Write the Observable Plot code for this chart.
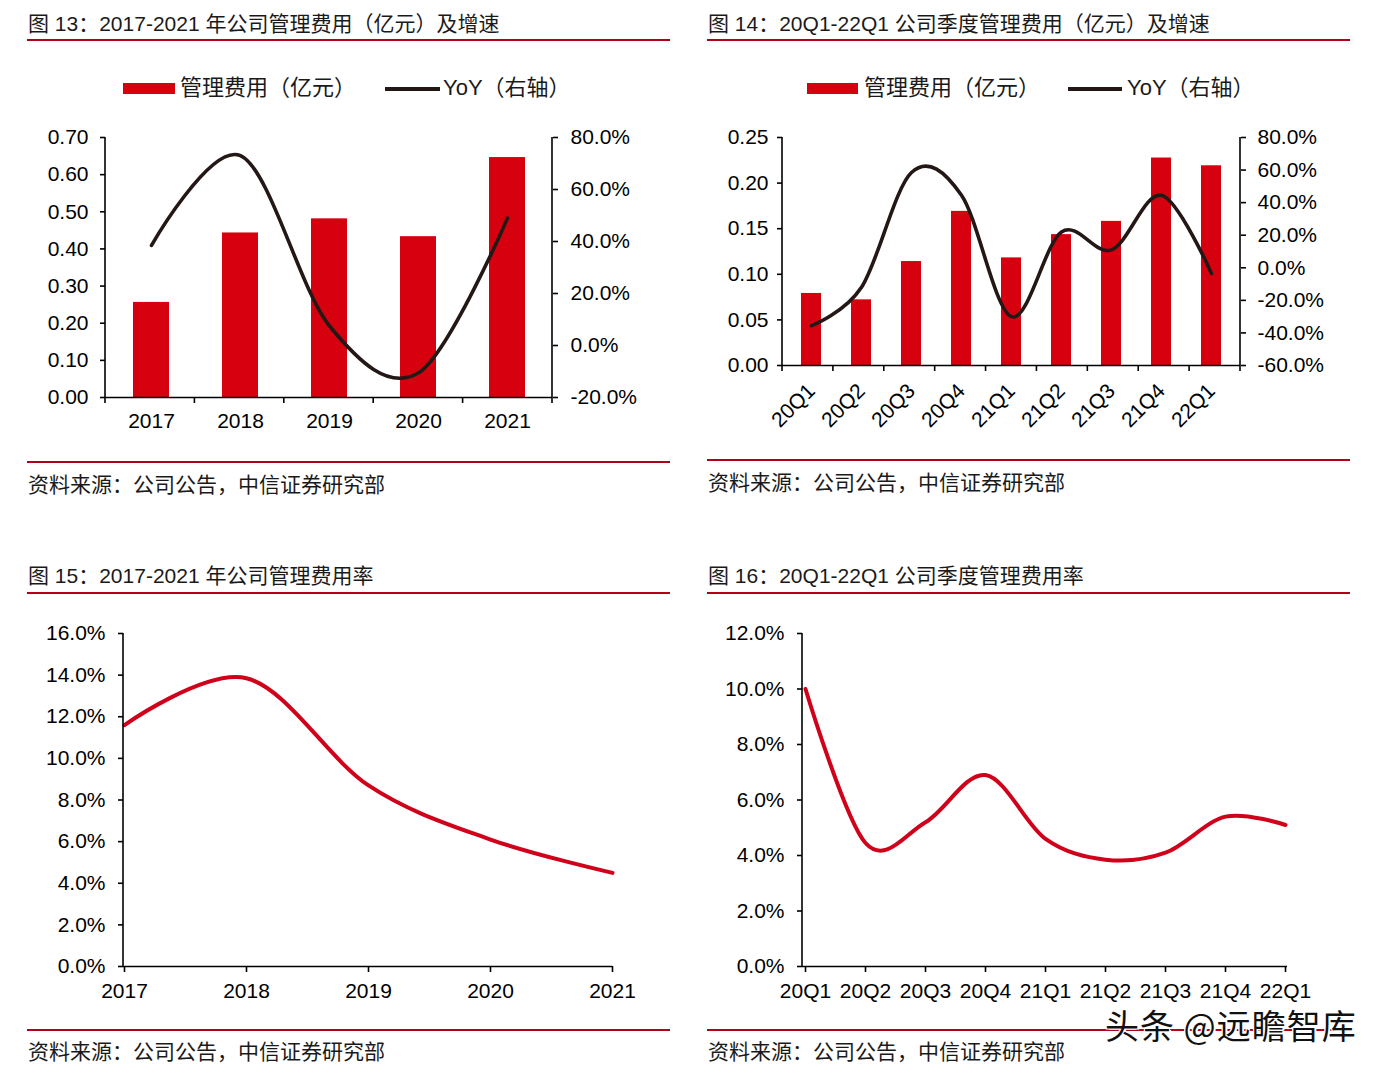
<!DOCTYPE html>
<html><head><meta charset="utf-8">
<script src="https://cdn.jsdelivr.net/npm/d3@7"></script>
<script src="https://cdn.jsdelivr.net/npm/@observablehq/plot@0.6"></script>
<style>
body{margin:0;width:1391px;height:1073px;background:#fff;position:relative;overflow:hidden;font-family:"Liberation Sans",Arial,"Noto Sans CJK SC",sans-serif;color:#1a1a1a}
.t{position:absolute;font-size:21px;line-height:24px;white-space:nowrap}
.lg{position:absolute;font-size:22px;line-height:24px;white-space:nowrap}
.rule{position:absolute;height:2px;background:#b0001a}
.abs{position:absolute}
.wm{position:absolute;font-family:"Noto Sans CJK SC",sans-serif;font-size:34px;letter-spacing:1px;line-height:28px;color:#111;white-space:nowrap;text-shadow:2px 1px 0 #fff,-1px -1px 0 #fff,1px -1px 0 #fff,-1px 1px 0 #fff}
</style></head><body>
<script>
// ---------- data ----------
const years = ["2017", "2018", "2019", "2020", "2021"];
const annualExpense = [0.256, 0.443, 0.481, 0.433, 0.646];   // 亿元
const annualYoY = [38.5, 73.0, 7.5, -10.5, 49.0];             // %
const annualRate = [11.6, 13.85, 8.7, 6.1, 4.5];              // %

const quarters = ["20Q1", "20Q2", "20Q3", "20Q4", "21Q1", "21Q2", "21Q3", "21Q4", "22Q1"];
const quarterExpense = [0.079, 0.072, 0.114, 0.169, 0.118, 0.1435, 0.158, 0.2275, 0.219];
const quarterYoY = [-35.5, -12.0, 58.5, 44.5, -30.0, 22.0, 11.0, 44.5, -3.5];
const quarterRate = [10.0, 4.45, 5.2, 6.9, 4.6, 3.85, 4.1, 5.4, 5.1];

const leftTicks1 = [0, 0.1, 0.2, 0.3, 0.4, 0.5, 0.6, 0.7];
const rightTicks1 = [-20, 0, 20, 40, 60, 80];
const leftTicks2 = [0, 0.05, 0.1, 0.15, 0.2, 0.25];
const rightTicks2 = [-60, -40, -20, 0, 20, 40, 60, 80];
const rateTicks3 = [0, 2, 4, 6, 8, 10, 12, 14, 16];
const rateTicks4 = [0, 2, 4, 6, 8, 10, 12];

const titles = [
  "图 13：2017-2021 年公司管理费用（亿元）及增速",
  "图 14：20Q1-22Q1 公司季度管理费用（亿元）及增速",
  "图 15：2017-2021 年公司管理费用率",
  "图 16：20Q1-22Q1 公司季度管理费用率"
];
const sourceText = "资料来源：公司公告，中信证券研究部";
const legendBar = "管理费用（亿元）";
const legendLine = "YoY（右轴）";
const watermark = "头条 @远瞻智库";

// ---------- helpers ----------
const RED = "#d7000f";
const LINE_RED = "#d0021b";
const DARK = "#231815";
const pct = v => v.toFixed(1) + "%";
const baseStyle = {fontFamily: '"Liberation Sans", Arial, sans-serif', fontSize: "21px", color: "#000", background: "transparent", overflow: "visible"};

function place(el, left, top) {
  el.style.position = "absolute";
  el.style.left = left + "px";
  el.style.top = top + "px";
  document.body.appendChild(el);
  return el;
}
function text(str, left, top, cls = "t") {
  const d = document.createElement("div");
  d.className = cls;
  d.textContent = str;
  return place(d, left, top);
}
function rule(left, top, width) {
  const d = document.createElement("div");
  d.className = "rule";
  d.style.width = width + "px";
  return place(d, left, top);
}
function box(left, top, w, h, color) {
  const d = document.createElement("div");
  d.className = "abs";
  d.style.width = w + "px"; d.style.height = h + "px"; d.style.background = color;
  return place(d, left, top);
}
// axis lines + category-boundary ticks (derived from the plot's own scales)
function axisFrame(svg, {right = false, boundaries = false}) {
  const x = svg.scale("x"), y = svg.scale("y");
  const x0 = Math.min(...x.range), x1 = Math.max(...x.range);
  const yt = Math.min(...y.range), yb = Math.max(...y.range);
  const g = d3.select(svg).append("g").attr("stroke", "#000").attr("stroke-width", 1.6).attr("fill", "none");
  g.append("line").attr("x1", x0).attr("x2", x0).attr("y1", yt).attr("y2", yb);
  if (right) g.append("line").attr("x1", x1).attr("x2", x1).attr("y1", yt).attr("y2", yb);
  if (boundaries) {
    const n = x.domain.length, step = (x1 - x0) / n;
    for (let i = 0; i <= n; i++) {
      const xx = x0 + i * step;
      g.append("line").attr("x1", xx).attr("x2", xx).attr("y1", yb).attr("y2", yb + 6);
    }
  }
}

// ---------- chart 1 ----------
const annual = years.map((year, i) => ({year, expense: annualExpense[i], yoy: annualYoY[i], rate: annualRate[i]}));
const Y1 = 0.7, R1 = [-20, 80];
const toLeft1 = v => (v - R1[0]) / (R1[1] - R1[0]) * Y1;
const fromLeft1 = d => Math.round(d / Y1 * (R1[1] - R1[0]) + R1[0]);

const c1 = Plot.plot({
  width: 640, height: 330, marginLeft: 85, marginRight: 108, marginTop: 22, marginBottom: 48,
  style: baseStyle,
  x: {domain: years, paddingInner: 0.6, paddingOuter: 0.3, label: null},
  y: {domain: [0, Y1], label: null},
  marks: [
    Plot.barY(annual, {x: "year", y: "expense", fill: RED}),
    Plot.line(annual, {x: "year", y: d => toLeft1(d.yoy), curve: "cardinal", stroke: DARK, strokeWidth: 3.6}),
    Plot.ruleY([0], {strokeWidth: 1.6}),
    Plot.axisY({ticks: leftTicks1, tickFormat: d => d.toFixed(2), tickSize: 5, tickPadding: 12, strokeWidth: 1.6, label: null}),
    Plot.axisY({anchor: "right", ticks: rightTicks1.map(toLeft1), tickFormat: d => pct(fromLeft1(d)), tickSize: 5, tickPadding: 13, strokeWidth: 1.6, label: null}),
    Plot.axisX({tickSize: 0, tickPadding: 16, label: null})
  ]
});
axisFrame(c1, {right: true, boundaries: true});
place(c1, 20, 115);

// ---------- chart 2 ----------
const quarterly = quarters.map((q, i) => ({q, expense: quarterExpense[i], yoy: quarterYoY[i], rate: quarterRate[i]}));
const Y2 = 0.25, R2 = [-60, 80];
const toLeft2 = v => (v - R2[0]) / (R2[1] - R2[0]) * Y2;
const fromLeft2 = d => Math.round(d / Y2 * (R2[1] - R2[0]) + R2[0]);

const c2 = Plot.plot({
  width: 680, height: 330, marginLeft: 82, marginRight: 140, marginTop: 22, marginBottom: 80,
  style: baseStyle,
  x: {domain: quarters, paddingInner: 0.6, paddingOuter: 0.3, label: null},
  y: {domain: [0, Y2], label: null},
  marks: [
    Plot.barY(quarterly, {x: "q", y: "expense", fill: RED}),
    Plot.line(quarterly, {x: "q", y: d => toLeft2(d.yoy), curve: "cardinal", stroke: DARK, strokeWidth: 3.6}),
    Plot.ruleY([0], {strokeWidth: 1.6}),
    Plot.axisY({ticks: leftTicks2, tickFormat: d => d.toFixed(2), tickSize: 5, tickPadding: 9, strokeWidth: 1.6, label: null}),
    Plot.axisY({anchor: "right", ticks: rightTicks2.map(toLeft2), tickFormat: d => pct(fromLeft2(d)), tickSize: 5, tickPadding: 12, strokeWidth: 1.6, label: null}),
    Plot.axisX({tickSize: 0, tickPadding: 22, tickRotate: -45, label: null})
  ]
});
axisFrame(c2, {right: true, boundaries: true});
place(c2, 700, 115);

// ---------- chart 3 ----------
const c3 = Plot.plot({
  width: 640, height: 400, marginLeft: 103, marginRight: 48, marginTop: 23, marginBottom: 44,
  style: baseStyle,
  x: {type: "point", domain: years, padding: 0, label: null},
  y: {domain: [0, 16], label: null},
  marks: [
    Plot.line(annual, {x: "year", y: "rate", curve: "cardinal", stroke: LINE_RED, strokeWidth: 4}),
    Plot.ruleY([0], {strokeWidth: 1.6}),
    Plot.axisY({ticks: rateTicks3, tickFormat: pct, tickSize: 5, tickPadding: 13, strokeWidth: 1.6, label: null}),
    Plot.axisX({tickSize: 6, tickPadding: 11, strokeWidth: 1.6, label: null})
  ]
});
axisFrame(c3, {});
place(c3, 20, 610);

// ---------- chart 4 ----------
const c4 = Plot.plot({
  width: 680, height: 400, marginLeft: 102, marginRight: 93, marginTop: 23, marginBottom: 44,
  style: baseStyle,
  x: {type: "point", domain: quarters, padding: 0, label: null},
  y: {domain: [0, 12], label: null},
  marks: [
    Plot.line(quarterly, {x: "q", y: "rate", curve: "cardinal", stroke: LINE_RED, strokeWidth: 4}),
    Plot.ruleY([0], {strokeWidth: 1.6}),
    Plot.axisY({ticks: rateTicks4, tickFormat: pct, tickSize: 5, tickPadding: 13, strokeWidth: 1.6, label: null}),
    Plot.axisX({tickSize: 6, tickPadding: 11, strokeWidth: 1.6, label: null})
  ]
});
axisFrame(c4, {});
place(c4, 700, 610);

// ---------- titles, rules, legends, sources ----------
text(titles[0], 28, 12);
text(titles[1], 708, 12);
text(titles[2], 28, 564);
text(titles[3], 708, 564);
rule(27, 39, 643);
rule(707, 39, 643);
rule(27, 592, 643);
rule(707, 592, 643);

box(123, 83, 52, 11, RED);
text(legendBar, 180, 76, "lg");
box(385, 87, 55, 3.5, DARK);
text(legendLine, 443, 76, "lg");

box(807, 83, 51, 11, RED);
text(legendBar, 864, 76, "lg");
box(1068, 87, 54, 3.5, DARK);
text(legendLine, 1127, 76, "lg");

rule(27, 461, 643);
rule(707, 459, 643);
rule(27, 1029, 643);
rule(707, 1029, 643);
text(sourceText, 28, 473);
text(sourceText, 708, 471);
text(sourceText, 28, 1040);
text(sourceText, 708, 1040);

text(watermark, 1105, 1011, "wm");
</script>
</body></html>
